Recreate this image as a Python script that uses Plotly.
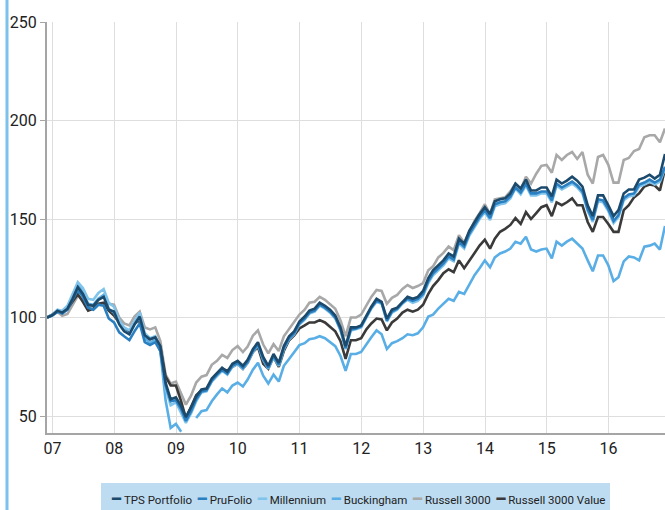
import pandas as pd
import plotly.graph_objects as go

# ---------------- data (month-end index values, Nov 2006 = 100) ----------------
start_date = "2006-11-30"
n_months = 121
year_ticks = ["2007-01-01", "2008-01-01", "2009-01-01", "2010-01-01", "2011-01-01",
              "2012-01-01", "2013-01-01", "2014-01-01", "2015-01-01", "2016-01-01"]
year_labels = ["07", "08", "09", "10", "11", "12", "13", "14", "15", "16"]

russell_3000 = [
    100, 101.0, 102.8, 100.9, 101.8, 106.2, 111.0, 109.0, 105.0, 106.0, 109.5, 110.5, 107.0, 106.5,
    100.0, 97.0, 96.0, 100.5, 103.0, 95.0, 94.0, 95.0, 88.0, 71.0, 66.5, 67.5,
    61.5, 55.8, 60.5, 67.0, 70.0, 70.8, 76.0, 78.0, 81.0, 79.5, 83.5, 85.5,
    82.5, 85.3, 90.8, 93.5, 86.3, 81.8, 86.5, 83.0, 90.5, 94.0, 97.5, 101.5,
    104.0, 107.5, 108.0, 110.5, 109.0, 107.0, 104.5, 98.5, 90.5, 100.0, 100.0, 101.5,
    106.0, 110.5, 114.0, 113.5, 107.0, 110.0, 111.5, 114.5, 116.5, 115.0, 116.0, 117.5,
    124.0, 126.0, 130.5, 132.8, 136.0, 134.2, 141.8, 138.0, 143.3, 149.0, 153.0, 157.5,
    152.5, 160.0, 160.5, 161.0, 164.0, 168.0, 165.0, 171.5, 168.0, 173.0, 177.0, 177.5,
    173.5, 182.5, 180.0, 182.5, 184.0, 180.5, 184.0, 172.5, 168.0, 181.5, 182.5, 177.5,
    168.5, 168.5, 180.0, 181.0, 184.5, 185.5, 191.5, 192.5, 192.5, 189.0, 196.0]

tps_portfolio = [
    100, 101.2, 103.5, 102.5, 104.5, 109.5, 115.5, 112.0, 106.5, 106.0, 109.0, 110.5, 104.0, 103.0,
    96.5, 93.0, 91.5, 96.5, 100.5, 91.0, 89.0, 90.0, 85.5, 67.0, 58.5, 59.5,
    55.0, 49.5, 54.5, 60.0, 63.5, 64.0, 69.0, 72.0, 74.5, 72.5, 76.5, 78.0,
    75.5, 78.5, 84.0, 87.5, 80.0, 75.5, 81.5, 77.0, 85.5, 90.5, 93.0, 98.0,
    100.5, 103.5, 104.5, 107.5, 106.0, 104.0, 101.0, 95.0, 85.5, 95.0, 95.0, 96.0,
    101.0, 105.5, 109.5, 108.0, 99.5, 104.0, 105.0, 108.0, 110.5, 109.5, 110.5, 113.5,
    120.0, 124.0, 126.5, 129.0, 132.5, 131.0, 140.0, 137.5, 144.0, 148.5, 152.5, 156.0,
    152.5, 159.0, 160.0, 160.5, 163.0, 168.0, 165.5, 170.0, 164.5, 164.5, 166.0, 166.0,
    161.5, 170.0, 168.0, 169.5, 171.5, 169.5, 166.5, 157.0, 151.5, 162.0, 162.0, 157.0,
    151.5, 154.5, 163.0, 165.0, 165.0, 170.0, 171.0, 172.5, 170.5, 172.5, 183.0]

prufolio = [
    100, 101.0, 103.0, 102.0, 104.0, 109.0, 114.0, 110.5, 105.0, 104.0, 106.5, 106.0, 99.5, 97.5,
    92.5, 90.5, 88.5, 93.0, 97.0, 87.5, 86.0, 87.5, 83.0, 65.5, 57.5, 58.0,
    53.5, 47.5, 52.5, 58.5, 62.5, 63.0, 68.0, 71.0, 73.5, 71.5, 75.5, 77.0,
    74.5, 77.5, 83.0, 86.5, 79.0, 74.5, 80.5, 76.0, 84.5, 89.5, 92.0, 97.0,
    99.5, 102.5, 103.5, 106.5, 105.0, 103.0, 100.0, 94.0, 84.5, 94.0, 94.5, 95.5,
    100.5, 105.0, 108.5, 107.5, 98.5, 103.0, 104.5, 107.5, 109.5, 108.5, 109.5, 112.0,
    118.5, 122.5, 125.0, 127.5, 131.0, 129.5, 138.5, 136.0, 142.5, 147.0, 151.0, 154.5,
    150.5, 157.5, 158.5, 159.0, 161.5, 166.0, 163.5, 168.0, 163.0, 163.0, 164.0, 164.0,
    159.5, 168.0, 166.0, 167.5, 169.0, 167.0, 164.0, 155.0, 149.5, 160.0, 159.5, 155.0,
    149.0, 152.0, 160.5, 162.5, 163.0, 167.5, 168.5, 170.0, 168.5, 170.0, 176.5]

millennium = [
    100, 101.5, 104.0, 103.5, 106.0, 111.5, 118.0, 115.0, 109.5, 109.0, 112.5, 114.5, 107.5, 105.5,
    98.5, 95.0, 93.5, 98.0, 102.5, 92.0, 89.5, 90.5, 84.5, 64.0, 55.5, 57.0,
    51.5, 46.5, 51.5, 57.5, 62.0, 62.5, 67.5, 70.5, 73.0, 71.0, 75.0, 76.5,
    74.0, 77.0, 82.5, 86.0, 78.5, 74.0, 80.0, 75.5, 84.0, 89.0, 91.5, 96.5,
    99.0, 102.0, 103.0, 106.0, 104.5, 102.5, 99.5, 93.5, 84.0, 93.5, 94.0, 95.0,
    100.0, 104.5, 108.0, 107.0, 98.0, 102.5, 104.0, 107.0, 109.0, 107.5, 108.5, 111.0,
    117.5, 121.5, 124.0, 126.5, 130.0, 128.5, 137.5, 135.0, 141.5, 146.0, 150.0, 153.5,
    149.5, 156.5, 157.5, 158.0, 160.5, 165.5, 162.5, 167.0, 162.0, 162.0, 163.0, 163.0,
    158.5, 167.0, 165.0, 166.5, 168.0, 166.0, 163.0, 154.0, 148.5, 159.0, 158.5, 154.0,
    148.0, 151.0, 159.5, 161.5, 162.0, 166.5, 167.5, 169.0, 167.5, 169.0, 175.5]

buckingham = [
    100, 101.3, 103.5, 103.0, 105.5, 110.5, 116.5, 113.0, 107.0, 106.5, 109.5, 111.5, 104.5, 102.5,
    97.0, 93.5, 91.5, 96.5, 100.0, 89.5, 87.0, 89.0, 83.0, 58.0, 44.0, 46.0,
    42.0, None, None, 49.0, 52.5, 53.0, 57.5, 61.0, 64.0, 62.0, 65.5, 67.0,
    65.0, 68.5, 73.5, 77.0, 70.5, 66.5, 71.0, 67.5, 75.5, 79.0, 82.5, 86.0,
    87.0, 89.0, 89.5, 90.5, 89.5, 87.5, 85.5, 80.5, 73.0, 81.5, 81.5, 82.5,
    86.5, 90.0, 93.5, 91.5, 84.0, 87.0, 88.0, 89.5, 91.5, 91.0, 92.0, 95.0,
    100.5, 101.5, 104.5, 107.0, 109.5, 108.5, 113.0, 112.0, 117.0, 121.5, 125.0, 129.0,
    125.5, 130.5, 132.5, 133.5, 135.0, 138.5, 137.5, 141.0, 134.5, 133.5, 134.5, 135.0,
    130.0, 138.5, 136.5, 138.5, 140.0, 137.5, 135.0, 129.0, 123.5, 131.5, 131.5, 126.5,
    118.5, 120.5, 128.5, 131.0, 130.5, 129.0, 136.0, 136.5, 137.5, 134.5, 146.5]

russell_3000_value = [
    100, 101.5, 103.5, 102.3, 104.5, 108.0, 111.8, 108.0, 103.5, 104.5, 107.0, 107.5, 103.5, 101.0,
    97.5, 94.0, 93.0, 97.0, 98.5, 89.0, 89.0, 90.0, 85.0, 70.0, 65.5, 65.5,
    57.5, 49.0, 54.7, 60.5, 63.0, 63.5, 68.0, 71.5, 74.0, 73.0, 75.0, 76.5,
    74.0, 77.0, 82.5, 85.0, 76.5, 74.0, 80.0, 75.0, 83.0, 88.5, 91.0, 94.5,
    96.0, 97.5, 97.5, 98.7, 97.5, 95.5, 93.0, 88.0, 79.0, 88.5, 88.5, 89.5,
    94.0, 97.0, 99.5, 99.0, 93.5, 97.5, 99.5, 102.5, 104.0, 103.0, 104.0, 106.5,
    112.0, 116.0, 119.0, 122.5, 124.5, 123.0, 129.0, 125.0, 129.0, 132.5, 136.5, 139.5,
    135.0, 140.0, 143.5, 145.0, 147.0, 150.5, 147.5, 153.5, 150.0, 153.0, 156.0, 157.0,
    151.5, 158.5, 157.0, 158.5, 160.5, 157.0, 157.0, 148.5, 143.5, 151.0, 151.0, 147.5,
    143.5, 143.5, 154.5, 157.0, 161.0, 163.0, 166.5, 167.5, 167.0, 164.5, 175.5]

series_names = ["TPS Portfolio", "PruFolio", "Millennium", "Buckingham",
                "Russell 3000", "Russell 3000 Value"]
series_values = [tps_portfolio, prufolio, millennium, buckingham,
                 russell_3000, russell_3000_value]
series_colors = ["#1c4a6c", "#2a7fc1", "#80c4ec", "#5aaee6", "#a8a8a8", "#3a3a3a"]

y_ticks = [50, 100, 150, 200, 250]

# ---------------- figure ----------------
dates = pd.date_range(start=start_date, periods=n_months, freq=pd.offsets.MonthEnd())

W, H = 665, 510
ML, MR, MT, MB = 47, 0, 22, 77
PW, PH = W - ML - MR, H - MT - MB
FONT = "Roboto, Liberation Sans, sans-serif"


def px_x(p):
    return (p - ML) / PW


def px_y(p):
    return (H - MB - p) / PH


fig = go.Figure()
draw_order = [4, 5, 3, 2, 1, 0]
for i in draw_order:
    fig.add_trace(go.Scatter(
        x=dates, y=series_values[i], name=series_names[i], mode="lines",
        line=dict(color=series_colors[i], width=2.6), connectgaps=False,
        showlegend=False))

shapes = [
    # left accent line
    dict(type="line", xref="paper", yref="paper", x0=px_x(7), x1=px_x(7),
         y0=px_y(H + 5), y1=px_y(-5), line=dict(color="#7cc1ea", width=3)),
    # legend background
    dict(type="rect", xref="paper", yref="paper", x0=px_x(101), x1=px_x(610),
         y0=px_y(H + 5), y1=px_y(483), fillcolor="#bddcf1", line=dict(width=0),
         layer="below"),
]

legend_parts = []
for name, col in zip(series_names, series_colors):
    legend_parts.append(
        f"<span style='color:{col};font-family:DejaVu Sans;font-size:15px'>\u2501</span>"
        f"&nbsp;{name}")
legend_text = "&nbsp;&nbsp;".join(legend_parts)

annotations = [dict(xref="paper", yref="paper", x=px_x(358), y=px_y(499),
                    text=legend_text, showarrow=False, xanchor="center",
                    yanchor="middle",
                    font=dict(family=FONT, size=11.5, color="#222222"))]

fig.update_layout(
    width=W, height=H,
    margin=dict(l=ML, r=MR, t=MT, b=MB, pad=0),
    paper_bgcolor="white", plot_bgcolor="white",
    font=dict(family=FONT, color="#222222"),
    showlegend=False,
    shapes=shapes, annotations=annotations,
    xaxis=dict(type="date", range=[dates[0], dates[-1]],
               tickvals=year_ticks, ticktext=year_labels,
               showgrid=True, gridcolor="#dedede", gridwidth=1,
               showline=True, linecolor="#a5a5a5", linewidth=2,
               ticks="", tickfont=dict(family=FONT, size=16, color="#222222"),
               zeroline=False),
    yaxis=dict(range=[41.4, 250], tickvals=y_ticks,
               showgrid=True, gridcolor="#dedede", gridwidth=1,
               showline=True, linecolor="#a5a5a5", linewidth=2,
               ticks="outside", ticklen=5, tickcolor="#a5a5a5", tickwidth=1,
               tickfont=dict(family=FONT, size=16, color="#222222"),
               zeroline=False),
)

fig.write_html("out.html")
